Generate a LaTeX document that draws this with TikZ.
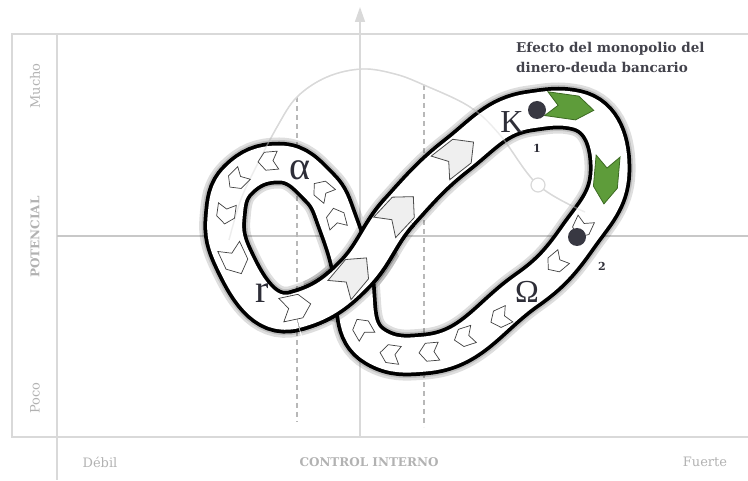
\documentclass[tikz,border=0pt]{standalone}
\usepackage{fontspec}
\setmainfont{DejaVu Serif}
\newfontfamily\greekfont{Liberation Serif}
\usetikzlibrary{arrows.meta,positioning}
\definecolor{axis}{HTML}{D9D9D9}
\definecolor{axtxt}{HTML}{B2B2B2}
\definecolor{ink}{HTML}{2E2E38}
\definecolor{grn}{HTML}{5E9C3A}
\definecolor{grnd}{HTML}{3C6A22}
\definecolor{pale}{HTML}{EFEFEF}
\tikzset{
  frame/.style={draw=axis,line width=1.6pt},
  guide/.style={draw=axis!85!black,line width=1.2pt,dash pattern=on 5pt off 4pt},
  trend/.style={draw=axis,line width=1.4pt},
  axlbl/.style={text=axtxt,inner sep=0pt,font=\fontsize{13}{13}\selectfont},
  axbold/.style={axlbl,font=\bfseries\fontsize{12}{12}\selectfont},
  halo/.style={draw=black,draw opacity=.13,line width=51pt,line cap=butt},
  bandtop/.style={draw=white,line width=35pt,line cap=butt,line join=round,
    preaction={draw=black,line width=42.5pt}},
  band/.style={preaction={halo},preaction={halo,line width=46pt},bandtop},
  chevron/.pic={\path[pic actions] (-1,.75) -- (.3,.75) -- (1,0) -- (.3,-.75)
    -- (-1,-.75) -- (-.5,0) -- cycle;},
  sarr/.style={draw=black!75,fill=white,line width=.7pt,xscale=10,yscale=12},
  marr/.style={draw=black!75,fill=white,line width=.7pt,xscale=15,yscale=16},
  barr/.style={draw=black!70,fill=pale,line width=.8pt,xscale=21,yscale=20},
  garr/.style={draw=grnd,fill=grn,line width=.8pt,xscale=24,yscale=16},
  dot/.style={circle,fill=ink!95,minimum size=18pt,inner sep=0pt},
  greek/.style={text=ink,inner sep=0pt,font=\greekfont\fontsize{32}{32}\selectfont},
  num/.style={text=ink,inner sep=0pt,font=\bfseries\fontsize{11}{11}\selectfont},
}

\begin{document}
\begin{tikzpicture}[x=1pt,y=1pt]
\useasboundingbox (0,0) rectangle (748,480);
\draw[frame] (748,446) -- (12,446) -- (12,43) -- (748,43);
\draw[frame] (57,446) -- (57,0);
\draw[frame,draw=axis!92!black] (57,244) -- (748,244);
\draw[guide] (297,383) -- (297,58);
\draw[guide] (424,395) -- (424,53);
\draw[frame,-{Triangle[length=15pt,width=10pt]}] (360,43) -- (360,473);
\draw[trend] plot[smooth,tension=.6] coordinates {(229,240) (240,278) (253,307)
  (277,353) (297,383) (327,403) (362,411) (395,406) (424,395) (470,373) (500,345)
  (538,295) (585,268)};

\node[axlbl,rotate=90] (mucho) at (35,394) {Mucho};
\node[axbold,rotate=90] (pot) at (35,243) {POTENCIAL};
\node[axlbl,rotate=90] (poco) at (35,82) {Poco};
\node[axlbl] (debil) at (100,18) {Débil};
\node[axbold] (ctrl) at (369,18) {CONTROL INTERNO};
\node[axlbl] (fuerte) at (705,18) {Fuerte};

\coordinate (R) at (295,169);
\coordinate (C) at (353,204);
\coordinate (A2) at (399,268);
\coordinate (A3) at (457,325);
\coordinate (K) at (530,369);
\coordinate (T) at (576,370);
\coordinate (E) at (610,308);
\coordinate (P2) at (578,243);
\coordinate (O) at (527,190);
\coordinate (B) at (425,126);
\coordinate (BL) at (376,133);
\coordinate (Q) at (336,262);
\coordinate (Q2) at (320,292);
\coordinate (Al) at (279,317);
\coordinate (L1) at (238,300);
\coordinate (L2) at (225,262);
\coordinate (L3) at (233,222);

\draw[band] (R) to[out=15,in=225] (C) to[out=45,in=228] (A2) to[out=48,in=218] (A3)
  to[out=38,in=188] (K) to[out=8,in=168] (T) to[out=-12,in=88] (E)
  to[out=-92,in=55] (P2) to[out=-125,in=35] (O) to[out=-145,in=5] (B)
  to[out=185,in=-30] (BL) to[out=150,in=-80] (C) to[out=100,in=-70] (Q)
  to[out=110,in=-45] (Q2) to[out=135,in=0] (Al) to[out=180,in=45] (L1)
  to[out=225,in=85] (L2) to[out=265,in=115] (L3) to[out=-65,in=195] (R);
\begin{scope}
\clip (C) circle (50);
\draw[halo,preaction={halo,line width=46pt}] (R) to[out=15,in=225] (C) to[out=45,in=228] (A2);
\end{scope}
\draw[bandtop] (R) to[out=15,in=225] (C) to[out=45,in=228] (A2);
\draw[trend,draw opacity=.45] plot[smooth,tension=.6] coordinates {(229,240) (240,278)
  (253,307) (277,353) (297,383) (327,403) (362,411) (395,406) (424,395) (470,373)
  (500,345) (538,295) (585,268)};
\node[circle,draw=axis,fill=white,line width=1.2pt,minimum size=14pt,inner sep=0pt] (eq) at (538,295) {};

\pic[rotate=105,sarr] at (336,262) {chevron};
\pic[rotate=140,sarr] at (322,290) {chevron};
\pic[rotate=185,sarr] at (268,319) {chevron};
\pic[rotate=225,sarr] at (237,300) {chevron};
\pic[rotate=262,sarr] at (226,266) {chevron};
\pic[rotate=295,marr] at (235,220) {chevron};
\pic[rotate=12,marr] at (296,173) {chevron};
\pic[rotate=50,barr] at (353,206) {chevron};
\pic[rotate=47,barr] at (399,268) {chevron};
\pic[rotate=38,barr] at (457,325) {chevron};
\pic[rotate=-8,garr] at (570,373) {chevron};
\pic[rotate=-95,garr] at (606,300) {chevron};
\pic[rotate=-115,sarr] at (582,252) {chevron};
\pic[rotate=220,sarr] at (556,217) {chevron};
\pic[rotate=205,sarr] at (500,162) {chevron};
\pic[rotate=198,sarr] at (464,143) {chevron};
\pic[rotate=185,sarr] at (429,128) {chevron};
\pic[rotate=172,sarr] at (390,126) {chevron};
\pic[rotate=120,sarr] at (362,152) {chevron};

\node[dot] (d1) at (537,370) {};
\node[dot] (d2) at (577,243) {};
\node[num,below=25pt of d1] (n1) {1};
\node[num,below right=25pt and 21pt of d2.center] (n2) {2};

\node[greek] (kk) at (512,358) {K};
\node[greek] (om) at (527,188) {Ω};
\node[greek,font=\greekfont\fontsize{40}{40}\selectfont] (al) at (300,310) {α};
\node[greek,font=\greekfont\fontsize{40}{40}\selectfont] (rr) at (262,187) {r};

\node[anchor=north west,align=left,inner sep=0pt,text=ink!90,
  font=\bfseries\fontsize{13.5}{20}\selectfont] (title) at (516,438)
  {Efecto del monopolio del\\dinero-deuda bancario};
\end{tikzpicture}
\end{document}
